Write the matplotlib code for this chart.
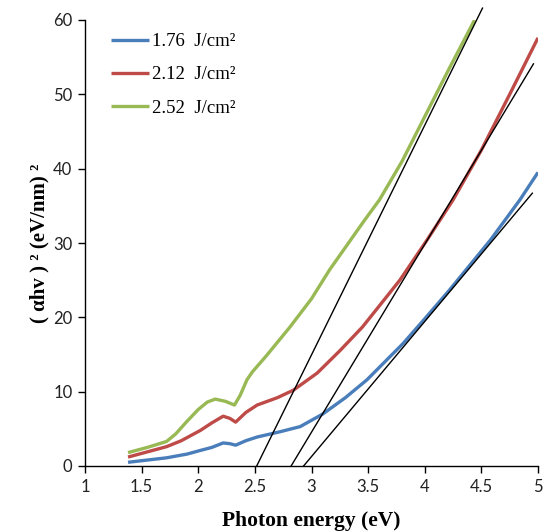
import numpy as np
import matplotlib
matplotlib.use("Agg")
import matplotlib.pyplot as plt

# values
blue_x = [1.38, 1.55, 1.72, 1.9, 2.02, 2.12, 2.22, 2.28, 2.33, 2.42, 2.52, 2.72, 2.9, 3.1, 3.3, 3.49, 3.81, 4.0, 4.22, 4.58, 4.84, 5.0]
blue_y = [0.5, 0.8, 1.1, 1.6, 2.1, 2.5, 3.1, 3.0, 2.8, 3.4, 3.9, 4.6, 5.3, 7.0, 9.2, 11.6, 16.5, 19.8, 23.7, 30.4, 35.8, 39.5]

red_x = [1.38, 1.55, 1.72, 1.85, 2.02, 2.12, 2.22, 2.28, 2.33, 2.42, 2.52, 2.7, 2.84, 3.05, 3.25, 3.45, 3.78, 4.02, 4.25, 4.5, 4.75, 5.0]
red_y = [1.2, 1.9, 2.6, 3.4, 4.8, 5.8, 6.7, 6.4, 5.9, 7.2, 8.2, 9.2, 10.2, 12.5, 15.5, 18.7, 25.0, 30.4, 35.8, 42.5, 50.0, 57.6]

green_x = [1.38, 1.55, 1.72, 1.8, 1.9, 2.0, 2.08, 2.15, 2.24, 2.32, 2.37, 2.43, 2.48, 2.6, 2.81, 3.0, 3.16, 3.47, 3.6, 3.8, 4.0, 4.2, 4.44]
green_y = [1.8, 2.5, 3.3, 4.3, 6.0, 7.6, 8.6, 9.0, 8.7, 8.2, 9.5, 11.6, 12.7, 14.8, 18.7, 22.5, 26.4, 33.1, 35.8, 41.0, 47.0, 53.0, 60.0]

labels = ["1.76  J/cm²", "2.12  J/cm²", "2.52  J/cm²"]
colors = ["#4a7ebb", "#be4b48", "#98b954"]

# tangent (Tauc) lines: x-intercept and end point
tan_x0 = [2.93, 2.82, 2.516]
tan_x1 = [4.95, 4.96, 4.51]
tan_y1 = [36.7, 54.1, 61.6]

fig = plt.figure(figsize=(5.43, 5.32), dpi=100)
ax = fig.add_axes([85 / 543, 66 / 532, 453 / 543, 446 / 532])

for xs, ys, lab, c in zip([blue_x, red_x, green_x], [blue_y, red_y, green_y], labels, colors):
    ax.plot(xs, ys, color=c, lw=2.4, label=lab, solid_capstyle="butt",
            solid_joinstyle="round")

for x0, x1, y1 in zip(tan_x0, tan_x1, tan_y1):
    ax.plot([x0, x1], [0, y1], color="black", lw=1.0, clip_on=False)

ax.set_xlim(1, 5)
ax.set_ylim(0, 60)
ax.set_xticks(np.arange(1, 5.01, 0.5))
ax.set_xticklabels(["1", "1.5", "2", "2.5", "3", "3.5", "4", "4.5", "5"])
ax.set_yticks(np.arange(0, 61, 10))

for s in ["top", "right"]:
    ax.spines[s].set_visible(False)
for s in ["left", "bottom"]:
    ax.spines[s].set_color("#000000")
    ax.spines[s].set_linewidth(1.0)

ax.tick_params(direction="out", length=5, width=1, labelsize=12,
               labelcolor="#222222", pad=4)
for t in ax.get_xticklabels() + ax.get_yticklabels():
    t.set_family("Lato")

ax.set_xlabel("Photon energy (eV)", family="Liberation Serif", fontweight="bold",
              fontsize=15.5, labelpad=12)
ax.set_ylabel("( αhv ) ² (eV/nm) ²", family="Liberation Serif", fontweight="bold",
              fontsize=15, labelpad=3)

leg = ax.legend(loc="upper left", bbox_to_anchor=(0.021, 1.008), frameon=False,
                prop={"family": "Liberation Serif", "size": 13.5},
                handlelength=2.0, handletextpad=0.15, labelspacing=0.85)

fig.savefig("out.png", dpi=100)
